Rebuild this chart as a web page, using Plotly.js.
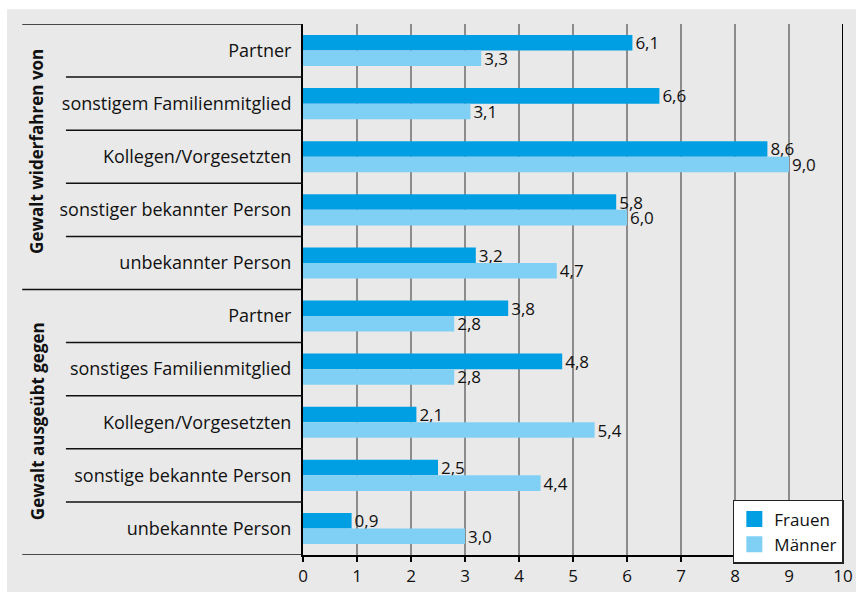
<!DOCTYPE html>
<html>
<head>
<meta charset="utf-8">
<script src="https://cdn.plot.ly/plotly-3.0.1.min.js"></script>
<style>html,body{margin:0;padding:0;background:#fff;}#chart{width:858px;height:597px;}</style>
</head>
<body>
<div id="chart"></div>
<script>
const categories = [
  "Partner", "sonstigem Familienmitglied", "Kollegen/Vorgesetzten", "sonstiger bekannter Person", "unbekannter Person",
  "Partner", "sonstiges Familienmitglied", "Kollegen/Vorgesetzten", "sonstige bekannte Person", "unbekannte Person"
];
const groups = ["Gewalt widerfahren von", "Gewalt ausgeübt gegen"];
const frauen = [6.1, 6.6, 8.6, 5.8, 3.2, 3.8, 4.8, 2.1, 2.5, 0.9];
const maenner = [3.3, 3.1, 9.0, 6.0, 4.7, 2.8, 2.8, 5.4, 4.4, 3.0];
const seriesNames = ["Frauen", "Männer"];
const seriesColors = ["#009fe3", "#80d0f5"];
const xTicks = [0,1,2,3,4,5,6,7,8,9,10];

const idx = categories.map((c, i) => i);
const FONT = "Open Sans, sans-serif";

const traces = [
  {type: "bar", orientation: "h", name: seriesNames[0], y: idx, x: frauen, showlegend: false,
   marker: {color: seriesColors[0]}, texttemplate: "%{x:.1f}", textposition: "outside", constraintext: "none",
   textfont: {size: 17, color: "#111", family: FONT}, cliponaxis: false, hoverinfo: "x"},
  {type: "bar", orientation: "h", name: seriesNames[1], y: idx, x: maenner, showlegend: false,
   marker: {color: seriesColors[1]}, texttemplate: "%{x:.1f}", textposition: "outside", constraintext: "none",
   textfont: {size: 17, color: "#111", family: FONT}, cliponaxis: false, hoverinfo: "x"},
  // legend entries with square swatches
  {type: "scatter", mode: "markers", name: seriesNames[0], x: [null], y: [null],
   marker: {symbol: "square", size: 16, color: seriesColors[0]}, showlegend: true},
  {type: "scatter", mode: "markers", name: seriesNames[1], x: [null], y: [null],
   marker: {symbol: "square", size: 16, color: seriesColors[1]}, showlegend: true}
];

const shapes = [];
shapes.push({type: "rect", xref: "paper", yref: "paper", x0: -0.548, x1: 1.024, y0: -0.0697, y1: 1.028,
  fillcolor: "#e9e9e9", line: {width: 0}, layer: "below"});
for (let k = 0; k <= categories.length; k++) {
  const outer = (k === 0 || k === 5 || k === 10);
  shapes.push({type: "line", xref: "paper", yref: "y", x0: outer ? -0.52 : -0.439, x1: 0,
    y0: k - 0.5, y1: k - 0.5, line: {color: "#111", width: 1.5}});
}
shapes.push({type: "line", xref: "x", yref: "paper", x0: 10, x1: 10, y0: 0, y1: 1, line: {color: "#000", width: 2}});

const annotations = [
  {text: "<b>" + groups[0] + "</b>", xref: "paper", yref: "paper", x: -0.4926, y: 0.761, textangle: -90,
   xanchor: "center", yanchor: "middle", showarrow: false, font: {size: 17, color: "#111", family: FONT}},
  {text: "<b>" + groups[1] + "</b>", xref: "paper", yref: "paper", x: -0.4926, y: 0.252, textangle: -90,
   xanchor: "center", yanchor: "middle", showarrow: false, font: {size: 17, color: "#111", family: FONT}}
];

const layout = {
  width: 858, height: 597,
  margin: {l: 303, r: 15, t: 24, b: 42, pad: 0},
  paper_bgcolor: "#ffffff",
  plot_bgcolor: "#e9e9e9",
  separators: ",.",
  barmode: "group",
  bargap: 0.415,
  bargroupgap: 0,
  font: {family: FONT, size: 17, color: "#111"},
  showlegend: true,
  legend: {x: 0.796, y: 0.1036, xanchor: "left", yanchor: "top", bgcolor: "#ffffff",
    bordercolor: "#222", borderwidth: 1.5, font: {size: 17, family: FONT, color: "#111"},
    tracegroupgap: 0, itemwidth: 30},
  xaxis: {range: [0, 10], tickvals: xTicks, ticktext: xTicks.map(String), showgrid: true,
    gridcolor: "#8c8c8c", gridwidth: 2, zeroline: false, showline: true, linecolor: "#000", linewidth: 2,
    ticks: "outside", ticklen: 5, tickcolor: "#000", tickwidth: 1.5, tickfont: {size: 17, family: FONT, color: "#111"},
    fixedrange: true},
  yaxis: {range: [9.5, -0.5], tickvals: idx, ticktext: categories, showgrid: false, zeroline: false,
    showline: true, linecolor: "#000", linewidth: 2, ticks: "", ticklabelstandoff: 6,
    tickfont: {size: 18, family: FONT, color: "#111"}, fixedrange: true},
  shapes: shapes,
  annotations: annotations
};

Plotly.newPlot("chart", traces, layout, {displayModeBar: false, staticPlot: true});
</script>
</body>
</html>
